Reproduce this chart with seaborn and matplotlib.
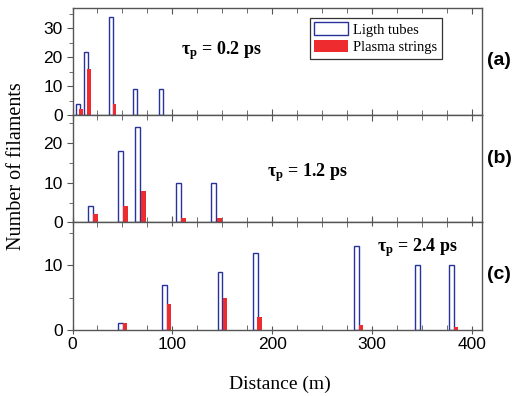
import numpy as np
import pandas as pd
import matplotlib
matplotlib.use("Agg")
import matplotlib.pyplot as plt
from matplotlib.ticker import MultipleLocator
from matplotlib.patches import Patch
import seaborn as sns

# ---- data (distance in m, number of filaments) ----
a_tube_x = [5.7, 13.5, 38.8, 62.7, 88.8]
a_tube_n = [4, 22, 34, 9, 9]
a_plasma_x = [8.7, 16.8, 42.0]
a_plasma_n = [2, 16, 4]

b_tube_x = [18.3, 48.0, 65.3, 106.2, 141.5]
b_tube_n = [4, 18, 24, 10, 10]
b_plasma_x = [23.5, 52.9, 70.7, 111.5, 146.9]
b_plasma_n = [2, 4, 8, 1, 1]

c_tube_x = [48.0, 92.2, 147.7, 183.0, 284.5, 345.5, 379.3]
c_tube_n = [1, 7, 9, 12, 13, 10, 10]
c_plasma_x = [52.5, 96.7, 152.5, 187.0, 288.7, 383.8]
c_plasma_n = [1, 4, 5, 2, 0.8, 0.4]

panel_tags = ["(a)", "(b)", "(c)"]
pulse_labels = ["0.2", "1.2", "2.4"]
legend_labels = ["Ligth tubes", "Plasma strings"]

BLUE = "#27339a"
RED = "#ee2b2e"
SPINE = "#555555"

sns.set_style("ticks")
plt.rcParams["font.family"] = ["Liberation Sans", "DejaVu Sans"]
plt.rcParams["text.color"] = "black"
plt.rcParams["xtick.labelcolor"] = "black"
plt.rcParams["ytick.labelcolor"] = "black"
plt.rcParams["mathtext.fontset"] = "custom"
plt.rcParams["mathtext.rm"] = "Liberation Serif:bold"
plt.rcParams["mathtext.it"] = "Liberation Serif:italic"
plt.rcParams["mathtext.bf"] = "Liberation Serif:bold"

fig, axes = plt.subplots(3, 1, figsize=(5.15, 3.96), dpi=100, sharex=True)
fig.subplots_adjust(left=0.1408, right=0.936, top=0.98, bottom=0.1674, hspace=0)


def bars(ax, x, n, bw, **kw):
    xs = np.sort(np.asarray(x, float))
    nw = np.min(np.diff(xs)) if len(xs) > 1 else 1.0
    df = pd.DataFrame({"distance": x, "count": n})
    sns.barplot(data=df, x="distance", y="count", native_scale=True, orient="x",
                width=bw / nw, errorbar=None, saturation=1, ax=ax, **kw)


series = [
    (a_tube_x, a_tube_n, a_plasma_x, a_plasma_n, 3.8, 37.1, 10),
    (b_tube_x, b_tube_n, b_plasma_x, b_plasma_n, 5.0, 26.9, 10),
    (c_tube_x, c_tube_n, c_plasma_x, c_plasma_n, 4.6, 16.7, 10),
]

for ax, (tx, tn, px, pn, bw, ymax, ymaj) in zip(axes, series):
    bars(ax, tx, tn, bw, color="white", edgecolor=BLUE, linewidth=1.0)
    bars(ax, px, pn, bw, color=RED, edgecolor="none", linewidth=0)
    ax.set_ylim(0, ymax)
    ax.yaxis.set_major_locator(MultipleLocator(ymaj))
    ax.yaxis.set_minor_locator(MultipleLocator(5))
    ax.set_xlabel("")
    ax.set_ylabel("")
    for s in ax.spines.values():
        s.set_visible(True)
        s.set_color(SPINE)
        s.set_linewidth(1.0)
    ax.tick_params(axis="y", which="both", direction="out", left=True, right=False,
                   color=SPINE, labelsize=12.5, pad=2.5, labelcolor="black")
    ax.tick_params(axis="y", which="major", length=4.5)
    ax.tick_params(axis="y", which="minor", length=3)
    ax.tick_params(axis="x", which="both", direction="in", top=True, bottom=True,
                   color=SPINE, labelsize=12.5, pad=2, labelcolor="black")
    ax.tick_params(axis="x", which="major", length=4.5)
    ax.tick_params(axis="x", which="minor", length=3.5)

axes[-1].set_xlim(0, 410)
axes[-1].xaxis.set_major_locator(MultipleLocator(100))
axes[-1].xaxis.set_minor_locator(MultipleLocator(25))
axes[-1].tick_params(axis="x", which="major", direction="inout", length=6)

# pulse duration annotations
txt_pos = [(0.265, 0.563), (0.475, 0.43), (0.744, 0.733)]
for ax, lab, (tx, ty) in zip(axes, pulse_labels, txt_pos):
    ax.text(tx, ty, r"$\mathregular{\tau}_\mathbf{p}$" + f" = {lab} ps", transform=ax.transAxes,
            ha="left", va="baseline", fontsize=13, fontweight="bold", color="black",
            family=["Liberation Serif", "DejaVu Serif"])

# panel tags
for lab, fy in zip(panel_tags, [0.848, 0.601, 0.306]):
    fig.text(0.945, fy, lab, ha="left", va="center", fontsize=14, fontweight="bold",
             color="black")

# legend
handles = [Patch(facecolor="white", edgecolor=BLUE, linewidth=1.0),
           Patch(facecolor=RED, edgecolor="none")]
leg = axes[0].legend(handles, legend_labels, loc="upper left", bbox_to_anchor=(0.58, 0.905),
                     borderaxespad=0, fancybox=False, framealpha=1, edgecolor="#333333",
                     prop={"family": "Liberation Serif", "size": 10.5},
                     handlelength=2.3, handleheight=0.9, handletextpad=0.35,
                     labelspacing=0.25, borderpad=0.3)
leg.get_frame().set_linewidth(0.9)
for t in leg.get_texts():
    t.set_color("black")

fig.text(0.033, 0.581, "Number of filaments", rotation=90, ha="center", va="center",
         fontsize=14.5, color="black", family=["Liberation Serif", "DejaVu Serif"])
fig.text(0.543, 0.029, "Distance (m)", ha="center", va="center",
         fontsize=14, color="black", family=["Liberation Serif", "DejaVu Serif"])

fig.savefig("out.png", dpi=100)
